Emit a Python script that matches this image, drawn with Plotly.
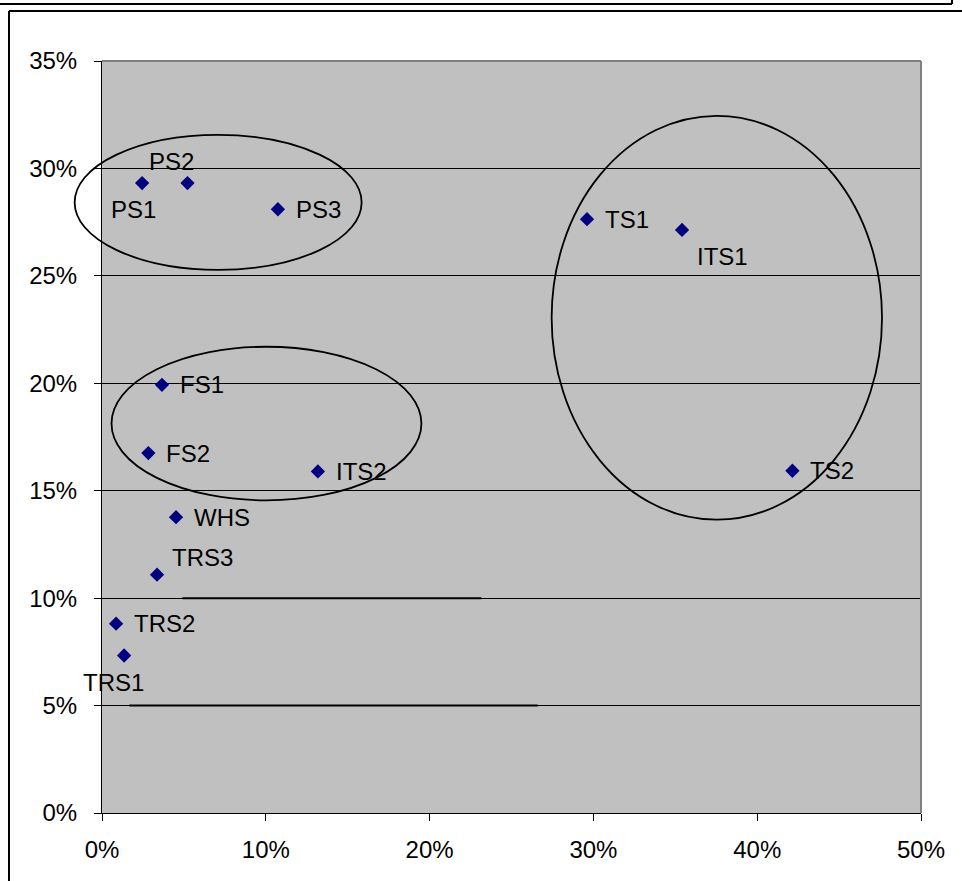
import plotly.graph_objects as go

# Scatter of site categories: x and y shares (fractions)
labels = ["PS1", "PS2", "PS3", "TS1", "ITS1", "TS2", "FS1", "FS2", "ITS2",
          "WHS", "TRS3", "TRS2", "TRS1"]
x_vals = [0.0245, 0.0522, 0.1074, 0.2961, 0.3541, 0.4215, 0.0366, 0.0283,
          0.1318, 0.0452, 0.0336, 0.0086, 0.0135]
y_vals = [0.2932, 0.2932, 0.2810, 0.2764, 0.2714, 0.1593, 0.1993, 0.1675,
          0.1590, 0.1377, 0.1109, 0.0881, 0.0733]

x_ticks = [0, 0.1, 0.2, 0.3, 0.4, 0.5]
y_ticks = [0, 0.05, 0.10, 0.15, 0.20, 0.25, 0.30, 0.35]

# Group outlines (x0, x1, y0, y1) in data units
groups = {
    "PS": (-0.0167, 0.1585, 0.2528, 0.3156),
    "FS": (0.0058, 0.1950, 0.1455, 0.2170),
    "TS": (0.2745, 0.4762, 0.1365, 0.3245),
}

W, H = 962, 881
ML, MR, MT, MB = 102, 41, 61, 68
PW, PH = W - ML - MR, H - MT - MB
XR = (0, 0.5)
YR = (0, 0.35)

# Label offsets in pixels (dx right, dy down); default sits right of marker
label_offsets = {
    "PS1": (-9, 26), "PS2": (-16, -22), "ITS1": (40, 27),
    "TRS1": (-11, 27), "TRS3": (45, -17),
}

FONT = "Liberation Sans, Arial, sans-serif"


def px_x(px):
    return (px - ML) / PW


def px_y(py):
    return (H - MB - py) / PH


def dx(v):
    return (v - XR[0]) / (XR[1] - XR[0])


def dy(v):
    return (v - YR[0]) / (YR[1] - YR[0])


fig = go.Figure()
fig.add_trace(go.Scatter(
    x=x_vals, y=y_vals, mode="markers",
    marker=dict(symbol="diamond", size=11, color="#000080",
                line=dict(width=0)),
    cliponaxis=False, hoverinfo="skip", showlegend=False,
))

annotations = []
for lab, xv, yv in zip(labels, x_vals, y_vals):
    if lab in label_offsets:
        ox, oy = label_offsets[lab]
        annotations.append(dict(
            x=xv, y=yv, xref="x", yref="y", text=lab, showarrow=False,
            xanchor="center", yanchor="middle", xshift=ox, yshift=-oy,
            font=dict(family=FONT, size=24, color="black")))
    else:
        annotations.append(dict(
            x=xv, y=yv, xref="x", yref="y", text=lab, showarrow=False,
            xanchor="left", yanchor="middle", xshift=16, yshift=0,
            font=dict(family=FONT, size=24, color="black")))

shapes = []
# ellipses around groups (paper refs so they are not clipped)
for name, (x0, x1, y0, y1) in groups.items():
    shapes.append(dict(type="circle", xref="paper", yref="paper",
                       x0=dx(x0), x1=dx(x1), y0=dy(y0), y1=dy(y1),
                       line=dict(color="black", width=1.8), layer="above"))

# darker gridline segments
for (xa, xb, yv) in [(0.049, 0.2316, 0.10), (0.0167, 0.266, 0.05)]:
    shapes.append(dict(type="line", xref="x", yref="y", x0=xa, x1=xb,
                       y0=yv, y1=yv, line=dict(color="black", width=2),
                       layer="above"))

# gray plot border top and right
shapes.append(dict(type="line", xref="paper", yref="paper", x0=0, x1=1,
                   y0=1, y1=1, line=dict(color="#808080", width=2),
                   layer="above"))
shapes.append(dict(type="line", xref="paper", yref="paper", x0=1, x1=1,
                   y0=0, y1=1, line=dict(color="#808080", width=2),
                   layer="above"))

# chart frame lines
frame = [
    (0, 952, 4, 4), (952, 952, 0, 4),
    (9, 962, 11, 11), (9, 9, 11, 881),
]
for (a, b, c, d) in frame:
    shapes.append(dict(type="line", xref="paper", yref="paper",
                       x0=px_x(a), x1=px_x(b), y0=px_y(c), y1=px_y(d),
                       line=dict(color="black", width=2), layer="above"))

fig.update_layout(
    width=W, height=H,
    margin=dict(l=ML, r=MR, t=MT, b=MB, pad=0),
    paper_bgcolor="white", plot_bgcolor="#C0C0C0",
    font=dict(family=FONT, size=24, color="black"),
    showlegend=False,
    annotations=annotations,
    shapes=shapes,
)
fig.update_xaxes(
    range=list(XR), tickvals=x_ticks, tickformat=".0%",
    showgrid=False, zeroline=False,
    showline=True, linecolor="black", linewidth=1,
    ticks="outside", ticklen=7, tickcolor="black", tickwidth=1,
    tickfont=dict(family=FONT, size=24, color="black"),
    ticklabelstandoff=8,
)
fig.update_yaxes(
    range=list(YR), tickvals=y_ticks, tickformat=".0%",
    showgrid=True, gridcolor="black", gridwidth=1, zeroline=False,
    showline=True, linecolor="black", linewidth=1,
    ticks="outside", ticklen=7, tickcolor="black", tickwidth=1,
    tickfont=dict(family=FONT, size=24, color="black"),
    ticklabelstandoff=12,
)

fig.write_html("out.html")
